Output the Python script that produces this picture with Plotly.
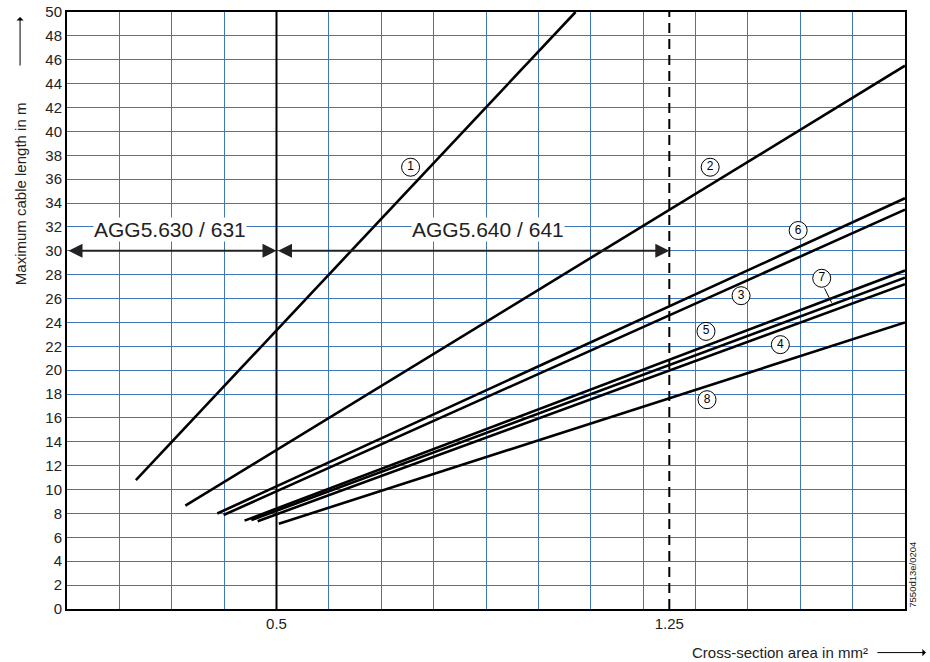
import plotly.graph_objects as go

# ---- data ----
curve_labels = ["1", "2", "3", "4", "5", "6", "7", "8"]
start_x = [0.2315, 0.326, 0.399, 0.464, 0.439, 0.387, 0.452, 0.5045]
start_y = [10.8, 8.65, 7.87, 7.35, 7.40, 8.00, 7.45, 7.14]
end_x = [1.071, 1.70, 1.70, 1.70, 1.70, 1.70, 1.70, 1.70]
end_y = [50.0, 45.5, 33.45, 27.2, 28.35, 34.4, 27.75, 24.0]

label_x = [0.756, 1.328, 1.387, 1.462, 1.320, 1.496, 1.541, 1.322]
label_y = [37.0, 37.0, 26.24, 22.14, 23.25, 31.7, 27.7, 17.53]

x_tick_vals = [0.5, 1.25]
x_tick_text = ["0.5", "1.25"]
y_tick_vals = list(range(0, 52, 2))

range_labels = ["AGG5.630 / 631", "AGG5.640 / 641"]
range_from = [0.1, 0.5]
range_to = [0.5, 1.25]
range_text_x = [0.296, 0.904]
range_arrow_y = 30
range_text_y = 31.77

solid_ref_x = 0.5
dashed_ref_x = 1.25

GRID = "#3f76b8"
FONT = "Liberation Sans, Arial, sans-serif"

fig = go.Figure()

for i, lab in enumerate(curve_labels):
    fig.add_trace(go.Scatter(
        x=[start_x[i], end_x[i]], y=[start_y[i], end_y[i]],
        mode="lines", line=dict(color="black", width=2.6),
        showlegend=False, hoverinfo="skip", cliponaxis=True))

# reference lines
fig.add_shape(type="line", x0=solid_ref_x, x1=solid_ref_x, y0=0, y1=1,
              xref="x", yref="paper", line=dict(color="black", width=2))
fig.add_shape(type="line", x0=dashed_ref_x, x1=dashed_ref_x, y0=0, y1=1,
              xref="x", yref="paper", line=dict(color="black", width=2, dash="10px,6px"))

# circled curve labels
fig.add_trace(go.Scatter(
    x=label_x, y=label_y, mode="markers+text", text=curve_labels,
    textposition="middle center",
    textfont=dict(family=FONT, size=12, color="black"),
    marker=dict(symbol="circle", size=18, color="white",
                line=dict(color="black", width=1)),
    showlegend=False, hoverinfo="skip", cliponaxis=False))

# leader line of label 7
fig.add_annotation(x=1.56, y=25.65, xref="x", yref="y",
                   ax=label_x[6] + 0.004, ay=label_y[6] - 0.72, axref="x", ayref="y",
                   showarrow=True, arrowhead=0, arrowwidth=1, arrowcolor="black", text="")

# range arrows and texts
for i in range(2):
    fig.add_annotation(x=range_to[i], y=range_arrow_y, xref="x", yref="y",
                       ax=range_from[i], ay=range_arrow_y, axref="x", ayref="y",
                       showarrow=True, arrowhead=2, arrowside="end+start",
                       arrowsize=1.4, arrowwidth=2, arrowcolor="#222222", text="")
    fig.add_annotation(x=range_text_x[i], y=range_text_y, xref="x", yref="y",
                       text=range_labels[i], showarrow=False,
                       font=dict(family=FONT, size=21, color="#222222"),
                       bgcolor="white", borderpad=0)

# axis titles with arrows
fig.add_annotation(x=-0.056, y=0.695, xref="paper", yref="paper",
                   text="Maximum cable length in m", textangle=-90, showarrow=False,
                   font=dict(family=FONT, size=15, color="#222222"),
                   xanchor="center", yanchor="middle")
fig.add_annotation(x=-0.056, y=0.9916, xref="paper", yref="paper",
                   ax=0, ay=50, showarrow=True, arrowhead=1, arrowsize=1.2,
                   arrowwidth=1, arrowcolor="black", text="")
fig.add_annotation(x=0.958, y=-0.073, xref="paper", yref="paper",
                   text="Cross-section area in mm²", showarrow=False,
                   font=dict(family=FONT, size=15, color="#222222"),
                   xanchor="right", yanchor="middle")
fig.add_annotation(x=1.025, y=-0.073, xref="paper", yref="paper",
                   ax=-50, ay=0, showarrow=True, arrowhead=1, arrowsize=1.2,
                   arrowwidth=1, arrowcolor="black", text="")
fig.add_annotation(x=1.0095, y=0.0574, xref="paper", yref="paper",
                   text="7550d13e/0204", textangle=-90, showarrow=False,
                   font=dict(family=FONT, size=9.5, color="#222222"),
                   xanchor="center", yanchor="middle")

fig.update_xaxes(range=[0.1, 1.7], tickmode="array", tickvals=x_tick_vals,
                 ticktext=x_tick_text, showgrid=False, zeroline=False,
                 showline=True, linecolor="black", linewidth=2, mirror=True,
                 automargin=False,
                 ticks="", tickfont=dict(family=FONT, size=15, color="#222222"),
                 minor=dict(tickmode="linear", tick0=0.1, dtick=0.1, showgrid=True,
                            gridcolor=GRID, gridwidth=1, ticks=""))
fig.update_yaxes(range=[0, 50], tickmode="array", tickvals=y_tick_vals,
                 showgrid=True, gridcolor=GRID, gridwidth=1, zeroline=False,
                 showline=True, linecolor="black", linewidth=2, mirror=True,
                 automargin=False,
                 ticks="", tickfont=dict(family=FONT, size=15, color="#222222"))

fig.update_layout(width=930, height=662, margin=dict(l=67, r=25, t=12, b=53),
                  plot_bgcolor="white", paper_bgcolor="white",
                  font=dict(family=FONT))

fig.write_html("out.html", config={"displayModeBar": False},
               post_script="document.body.style.margin='0';document.body.style.overflow='hidden';")
